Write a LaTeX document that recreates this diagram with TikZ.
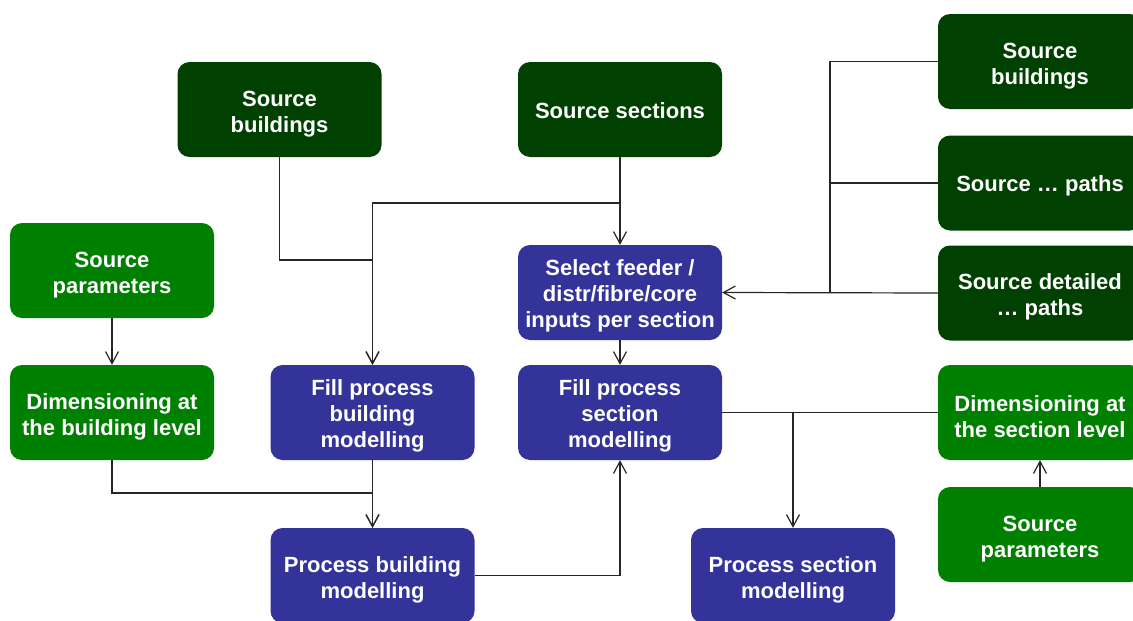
\documentclass[tikz,border=0pt]{standalone}
\usepackage{fontspec}
\setmainfont{Liberation Sans}
\usetikzlibrary{arrows.meta}
\definecolor{srcdark}{RGB}{0,64,0}
\definecolor{srcmid}{RGB}{0,128,0}
\definecolor{procblue}{RGB}{51,51,153}

\begin{document}
\begin{tikzpicture}[x=1pt, y=-1pt,
        textdrop/.style={execute at begin node={\rule{0pt}{#1}}},
        box/.style={rounded corners=12pt, minimum width=204pt, minimum height=95pt,
            align=center, text=white, inner sep=2pt,
            font=\fontsize{22}{26}\selectfont\bfseries, textdrop=18pt},
        twoline/.style={textdrop=50pt},
        threeline/.style={textdrop=74pt},
        srcbox/.style={box, fill=srcdark},
        parbox/.style={box, fill=srcmid},
        procbox/.style={box, fill=procblue},
        conn/.style={line width=1.2pt, black!85},
        arr/.style={conn, -{Straight Barb[length=12pt, width=13pt, line width=1.2pt]}}]
        \useasboundingbox (0, 0) rectangle (1133, 621);

        % sources
        \node[srcbox, twoline] (srcbld) at (279.5, 109.5) {Source\\buildings};
        \node[srcbox] (srcsec) at (620, 109.5) {Source sections};
        \node[parbox, twoline] (parbld) at (112, 270.5) {Source\\parameters};
        \node[srcbox, twoline] (srcbldr) at (1040, 61.5) {Source\\buildings};
        \node[srcbox, textdrop=21pt] (srcpath) at (1040, 183) {Source … paths};
        \node[srcbox, twoline] (srcdet) at (1040, 293) {Source detailed\\… paths};
        \node[parbox, twoline] (parsec) at (1040, 534.5) {Source\\parameters};

        % processing
        \node[procbox, threeline] (select) at (620, 292.5) {Select feeder /\\distr/fibre/core\\inputs per section};
        \node[parbox, twoline] (dimbld) at (112, 412.5) {Dimensioning at\\the building level};
        \node[procbox, threeline] (fillbld) at (372.5, 412.5) {Fill process\\building\\modelling};
        \node[procbox, threeline] (fillsec) at (620, 412.5) {Fill process\\section\\modelling};
        \node[parbox, twoline] (dimsec) at (1040, 412.5) {Dimensioning at\\the section level};
        \node[procbox, twoline] (procbld) at (372.5, 575.5) {Process building\\modelling};
        \node[procbox, twoline] (procsec) at (793, 575.5) {Process section\\modelling};

        \coordinate (jbld) at (372.5, 260);
        \coordinate (jsec) at (372.5, 203);
        \coordinate (jright) at (830, 293);
        \coordinate (jdim) at (372.5, 493);

        \draw[arr] (srcbld.south) |- (jbld) -- (fillbld.north);
        \draw[arr] (srcsec.south) |- (jsec) -- (fillbld.north);
        \draw[arr] (srcsec.south) -- (select.north);
        \draw[conn] (srcbldr.west) -| (jright);
        \draw[conn] (srcpath.west) -- (srcpath.west -| jright);
        \draw[arr] (srcdet.west) -- (select.east);
        \draw[arr] (parbld.south) -- (dimbld.north);
        \draw[arr] (select.south) -- (fillsec.north);
        \draw[arr] (dimbld.south) |- (jdim) -- (procbld.north);
        \draw[arr] (fillbld.south) -- (procbld.north);
        \draw[arr] (procbld.east) -| (fillsec.south);
        \draw[conn] (fillsec.east) -- (dimsec.west);
        \draw[arr] (procsec.north |- fillsec.east) -- (procsec.north);
        \draw[arr] (parsec.north) -- (dimsec.south);
\end{tikzpicture}
\end{document}
